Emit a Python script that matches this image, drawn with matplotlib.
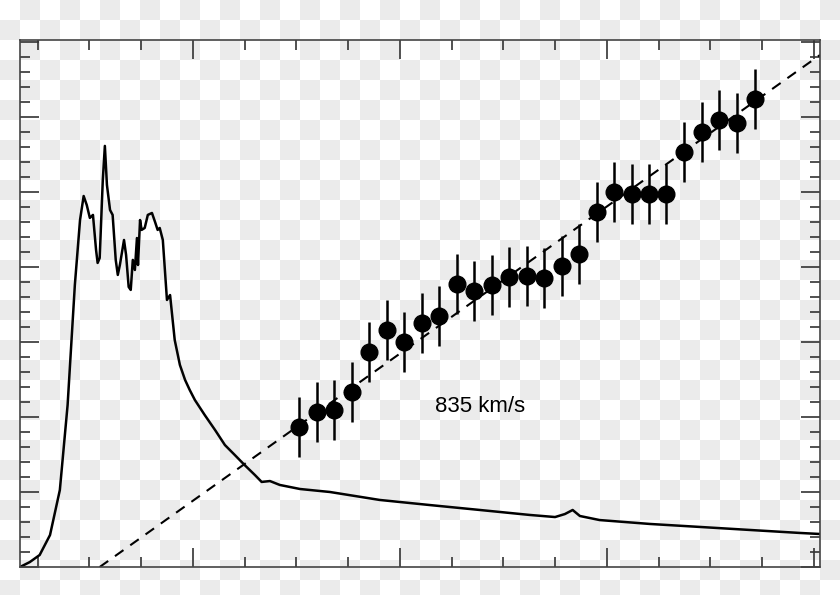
import numpy as np
import matplotlib.pyplot as plt
from matplotlib.ticker import MultipleLocator

# spectrum curve
spec_x = [-3.34, -3.15, -2.96, -2.76, -2.57, -2.42, -2.28, -2.18, -2.11, -2.05, -1.99, -1.93,
          -1.87, -1.84, -1.80, -1.74, -1.70, -1.66, -1.60, -1.55, -1.49, -1.45, -1.41, -1.33,
          -1.29, -1.24, -1.20, -1.16, -1.12, -1.08, -1.06, -1.02, -0.99, -0.93, -0.87, -0.79,
          -0.73, -0.68, -0.64, -0.58, -0.50, -0.44, -0.35, -0.25, -0.15, -0.06, 0.04, 0.23,
          0.43, 0.62, 0.81, 1.00, 1.20, 1.33, 1.49, 1.68, 2.07, 2.65, 3.61, 4.58, 5.55, 6.51,
          7.00, 7.19, 7.34, 7.48, 7.86, 8.83, 9.80, 10.76, 11.73, 12.12]
spec_y = [0.0, 0.33, 0.8, 2.13, 5.13, 10.8, 18.8, 23.13, 24.73, 24.13, 23.27, 23.47,
          21.13, 20.27, 20.6, 25.8, 28.07, 25.47, 23.8, 23.47, 20.47, 19.47, 20.13, 21.8,
          20.8, 18.67, 18.47, 20.47, 19.8, 21.93, 20.13, 23.13, 22.47, 22.6, 23.47, 23.6,
          23.0, 22.47, 22.6, 21.8, 17.8, 18.13, 15.13, 13.47, 12.47, 11.8, 11.13, 10.13,
          9.13, 8.13, 7.47, 6.8, 6.13, 5.67, 5.73, 5.47, 5.2, 5.0, 4.47, 4.13, 3.8, 3.47,
          3.33, 3.53, 3.8, 3.4, 3.13, 2.87, 2.67, 2.47, 2.27, 2.2]

# measured points
pt_x = [2.05, 2.39, 2.72, 3.07, 3.40, 3.75, 4.08, 4.43, 4.76, 5.10, 5.43, 5.78, 6.11, 6.46,
        6.78, 7.13, 7.46, 7.81, 8.14, 8.48, 8.81, 9.14, 9.49, 9.83, 10.16, 10.51, 10.86]
pt_y = [9.33, 10.33, 10.47, 11.67, 14.33, 15.8, 15.0, 16.27, 16.73, 18.87, 18.4, 18.8,
        19.33, 19.4, 19.27, 20.07, 20.87, 23.67, 25.0, 24.87, 24.87, 24.87, 27.67, 29.0,
        29.8, 29.6, 31.2]
pt_err = [2.0] * len(pt_x)

# linear fit line
fit_x = [-1.80, 12.12]
fit_y = [0.0, 34.13]

W, H = 840, 595
fig = plt.figure(figsize=(W / 100, H / 100), dpi=100)

# checkerboard background
yy, xx = np.mgrid[0:H, 0:W]
chk = (xx // 20 + yy // 20) % 2
bg = np.where(chk[..., None] == 1, 0.925, 1.0) * np.ones((H, W, 3))
bax = fig.add_axes([0, 0, 1, 1])
bax.imshow(bg, aspect='auto', interpolation='nearest')
bax.axis('off')

ax = fig.add_axes([20 / W, 28 / H, 800 / W, 527 / H])
ax.patch.set_alpha(0)

ax.plot(spec_x, spec_y, color='black', lw=1.8)
ax.plot(fit_x, fit_y, color='black', lw=1.5, linestyle=(0, (5, 4)))
ax.errorbar(pt_x, pt_y, yerr=pt_err, fmt='o', color='black', ms=12, elinewidth=1.8, capsize=0)
ax.text(5.55, 10.7, '835 km/s', fontsize=16, ha='center', va='center',
        family='Liberation Sans')

ax.set_xlim(-3.34, 12.12)
ax.set_ylim(0, 35.13)
ax.xaxis.set_major_locator(MultipleLocator(4))
ax.xaxis.set_minor_locator(MultipleLocator(1))
ax.yaxis.set_major_locator(MultipleLocator(5))
ax.yaxis.set_minor_locator(MultipleLocator(1))
ax.tick_params(which='both', direction='in', top=True, right=True,
               labelbottom=False, labelleft=False, color='#333333')
ax.tick_params(which='major', length=14, width=1.2)
ax.tick_params(which='minor', length=7, width=1.2)
for s in ax.spines.values():
    s.set_color('#444444')
    s.set_linewidth(1.2)

fig.savefig('out.png', dpi=100)
